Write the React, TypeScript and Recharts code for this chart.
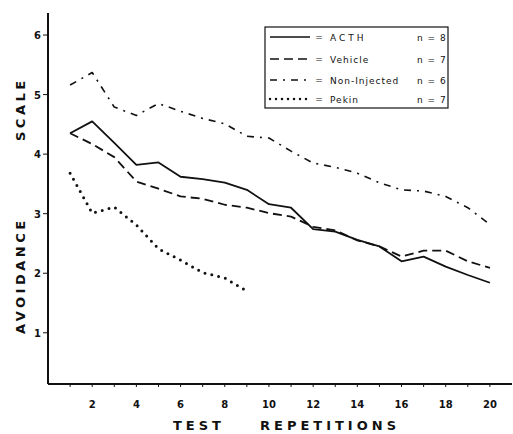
import React from "react";
import { LineChart, Line, XAxis, YAxis, Label } from "recharts";

const trials = [1, 2, 3, 4, 5, 6, 7, 8, 9, 10, 11, 12, 13, 14, 15, 16, 17, 18, 19, 20];
const acth = [4.35, 4.55, 4.19, 3.82, 3.86, 3.62, 3.58, 3.52, 3.4, 3.16, 3.1, 2.74, 2.7, 2.56, 2.45, 2.2, 2.28, 2.11, 1.97, 1.84];
const vehicle = [4.35, 4.17, 3.95, 3.54, 3.42, 3.29, 3.25, 3.15, 3.1, 3.01, 2.95, 2.78, 2.72, 2.55, 2.45, 2.28, 2.38, 2.38, 2.2, 2.09];
const nonInjected = [5.16, 5.37, 4.79, 4.65, 4.85, 4.72, 4.6, 4.51, 4.3, 4.27, 4.05, 3.85, 3.78, 3.68, 3.52, 3.4, 3.38, 3.29, 3.1, 2.82];
const pekin = [3.68, 3.01, 3.11, 2.81, 2.41, 2.22, 2.01, 1.92, 1.7];

const yTicks = [1, 2, 3, 4, 5, 6];
const xTicks = trials;

const groups = [
  { key: "acth", name: "ACTH", n: 8, dash: undefined as string | undefined, width: 1.8, cap: "butt", spacing: 3 },
  { key: "vehicle", name: "Vehicle", n: 7, dash: "9 5", width: 1.8, cap: "butt", spacing: 1 },
  { key: "nonInjected", name: "Non-Injected", n: 6, dash: "7 6 2 6", width: 1.6, cap: "butt", spacing: 1 },
  { key: "pekin", name: "Pekin", n: 7, dash: "0 7", width: 3, cap: "round", spacing: 1 },
];

const data = trials.map((t, i) => ({
  trial: t,
  acth: acth[i],
  vehicle: vehicle[i],
  nonInjected: nonInjected[i],
  pekin: i < pekin.length ? pekin[i] : null,
}));

const FONT = "'DejaVu Sans', sans-serif";
const INK = "#111";

const XTick = ({ x, y, payload }: any) =>
  payload.value % 2 === 0 ? (
    <text x={x} y={y + 19} textAnchor="middle" fontSize={10} fontFamily={FONT} fontWeight={600} fill={INK}>
      {payload.value}
    </text>
  ) : null;

const YTick = ({ x, y, payload }: any) => (
  <text x={x} y={y + 4} textAnchor="end" fontSize={10} fontFamily={FONT} fontWeight={600} fill={INK}>
    {payload.value}
  </text>
);

const LegendBox = () => (
  <svg width={186} height={84} style={{ position: "absolute", left: 264, top: 26 }}>
    <rect x={1} y={1} width={183} height={81} fill="#fff" stroke={INK} strokeWidth={1.2} />
    {groups.map((g, i) => {
      const y = [11, 33, 54, 73][i];
      return (
        <g key={g.key}>
          <line x1={6} x2={46} y1={y} y2={y} stroke={INK} strokeWidth={g.key === "pekin" ? 2.5 : 1.4}
            strokeDasharray={g.key === "pekin" ? "0 6" : g.dash} strokeLinecap={g.cap as any} />
          <text x={55} y={y + 3} fontSize={9} fontFamily={FONT} fill={INK} textAnchor="middle">=</text>
          <text x={66} y={y + 3.5} fontSize={9} fontFamily={FONT} fill={INK} letterSpacing={g.spacing}>{g.name}</text>
          <text x={153} y={y + 3.5} fontSize={9} fontFamily={FONT} fill={INK} letterSpacing={1}>{`n = ${g.n}`}</text>
        </g>
      );
    })}
  </svg>
);

const XTitle = () => (
  <g fontFamily={FONT} fontSize={13} fontWeight={600} fill={INK} letterSpacing={4}>
    <text x={173} y={430}>TEST</text>
    <text x={260} y={430}>REPETITIONS</text>
  </g>
);

const YTitle = () => (
  <g fontFamily={FONT} fontSize={13} fontWeight={600} fill={INK} letterSpacing={3.5}>
    <text x={25} y={334} transform="rotate(-90 25 334)">AVOIDANCE</text>
    <text x={25} y={141} transform="rotate(-90 25 141)">SCALE</text>
  </g>
);

export default function App() {
  return (
    <div style={{ position: "absolute", left: 0, top: 0, width: 513, height: 434, background: "#fff" }}>
      <LineChart width={513} height={434} data={data} margin={{ top: 13, right: 1, bottom: 0, left: 0 }}>
        <XAxis
          dataKey="trial"
          type="number"
          domain={[0, 21]}
          ticks={xTicks}
          interval={0}
          height={50}
          tickSize={3}
          tickMargin={2}
          tick={<XTick />}
          axisLine={{ stroke: INK, strokeWidth: 2 }}
          tickLine={{ stroke: INK, strokeWidth: 1 }}
        >
          <Label content={<XTitle />} />
        </XAxis>
        <YAxis
          type="number"
          domain={[0.14, 6.37]}
          ticks={yTicks}
          interval={0}
          width={48}
          tickSize={5}
          tickMargin={2}
          tick={<YTick />}
          allowDataOverflow
          axisLine={{ stroke: INK, strokeWidth: 2 }}
          tickLine={{ stroke: INK, strokeWidth: 1 }}
        >
          <Label content={<YTitle />} />
        </YAxis>
        {groups.map((g) => (
          <Line
            key={g.key}
            dataKey={g.key}
            name={g.name}
            type="linear"
            stroke={INK}
            strokeWidth={g.width}
            strokeDasharray={g.dash}
            strokeLinecap={g.cap as any}
            strokeLinejoin="round"
            dot={false}
            activeDot={false}
            connectNulls={false}
            isAnimationActive={false}
          />
        ))}
      </LineChart>
      <LegendBox />
    </div>
  );
}
